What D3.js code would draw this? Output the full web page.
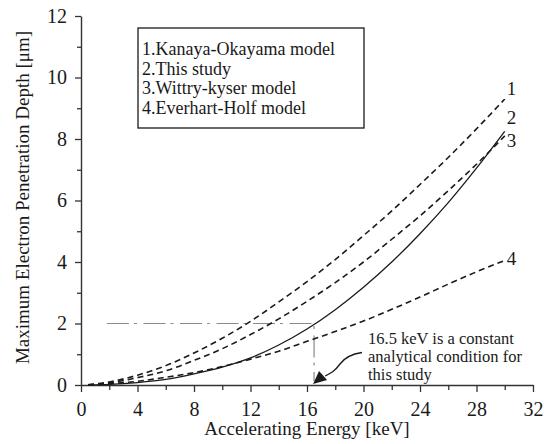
<!DOCTYPE html>
<html>
<head>
<meta charset="utf-8">
<script src="https://cdn.jsdelivr.net/npm/d3@7"></script>
<style>
    body { margin: 0; background: #fff; }
    text { font-family: "Liberation Serif", "DejaVu Serif", serif; fill: #1a1a1a; }
</style>
</head>
<body>
<div id="chart"></div>
<script>
// accelerating energy [keV]
const energy = [0.5, 2, 4, 6, 8, 10, 12, 14, 16, 18, 20, 22, 24, 26, 28, 30];
// max electron penetration depth [um]
const kanaya = [0.01, 0.10, 0.32, 0.63, 1.04, 1.52, 2.07, 2.70, 3.36, 4.08, 4.86, 5.66, 6.52, 7.40, 8.33, 9.30];
const thisStudy = [0.00, 0.02, 0.08, 0.18, 0.36, 0.58, 0.88, 1.30, 1.82, 2.45, 3.18, 4.00, 4.92, 5.93, 7.05, 8.25];
const wittry = [0.01, 0.07, 0.24, 0.46, 0.80, 1.18, 1.64, 2.15, 2.72, 3.33, 4.00, 4.74, 5.50, 6.32, 7.18, 8.10];
const everhart = [0.00, 0.04, 0.12, 0.25, 0.40, 0.60, 0.84, 1.10, 1.42, 1.74, 2.08, 2.46, 2.86, 3.28, 3.68, 4.05];

const legendLabels = ["1.Kanaya-Okayama model", "2.This study", "3.Wittry-kyser model", "4.Everhart-Holf model"];
const xTicks = [0, 4, 8, 12, 16, 20, 24, 28, 32];
const yTicks = [0, 2, 4, 6, 8, 10, 12];
const condEnergy = 16.5;
const condDepth = 2;
const noteLines = ["16.5 keV is a constant", "analytical condition for", "this study"];

const width = 544;
const height = 444;

const svg = d3.select("#chart")
    .append("svg")
    .attr("width", width)
    .attr("height", height);

const xScale = d3.scaleLinear().domain([0, 32]).range([81, 533]);
const yScale = d3.scaleLinear().domain([0, 12]).range([385, 16]);

// minor ticks
const xMinor = d3.range(2, 32, 4);
const yMinor = d3.range(1, 12, 2);

svg.append("g")
    .attr("transform", `translate(0, ${yScale(0)})`)
    .call(d3.axisBottom(xScale).tickValues(xMinor).tickSize(5).tickFormat(""))
    .call(g => g.select(".domain").remove())
    .selectAll("line").attr("stroke", "#333").attr("stroke-width", 1.3);

svg.append("g")
    .attr("transform", `translate(${xScale(0)}, 0)`)
    .call(d3.axisLeft(yScale).tickValues(yMinor).tickSize(4).tickFormat(""))
    .call(g => g.select(".domain").remove())
    .selectAll("line").attr("stroke", "#333").attr("stroke-width", 1.3);

// x-axis
const xAxis = svg.append("g")
    .attr("transform", `translate(0, ${yScale(0)})`)
    .call(d3.axisBottom(xScale).tickValues(xTicks).tickSize(7).tickSizeOuter(0).tickPadding(10));
xAxis.select(".domain").attr("stroke", "#333").attr("stroke-width", 1.4);
xAxis.selectAll("line").attr("stroke", "#333").attr("stroke-width", 1.3);
xAxis.selectAll("text")
    .attr("font-size", "20px")
    .attr("fill", "#1a1a1a");

// y-axis
const yAxis = svg.append("g")
    .attr("transform", `translate(${xScale(0)}, 0)`)
    .call(d3.axisLeft(yScale).tickValues(yTicks).tickSize(6).tickSizeOuter(0).tickPadding(8));
yAxis.select(".domain").attr("stroke", "#333").attr("stroke-width", 1.4);
yAxis.selectAll("line").attr("stroke", "#333").attr("stroke-width", 1.3);
yAxis.selectAll("text")
    .attr("font-size", "20px")
    .attr("fill", "#1a1a1a");

// axis-titles
svg.append("text")
    .attr("x", (xScale(0) + xScale(32)) / 2)
    .attr("y", 435)
    .attr("text-anchor", "middle")
    .attr("font-size", "19px")
    .text("Accelerating Energy [keV]");

svg.append("text")
    .attr("transform", `translate(29, ${(yScale(0) + yScale(12)) / 2 - 3}) rotate(-90)`)
    .attr("text-anchor", "middle")
    .attr("font-size", "19px")
    .text("Maximum Electron Penetration Depth [\u03bcm]");

// 16.5 keV guide lines
svg.append("path")
    .attr("d", `M${xScale(0) + 26},${yScale(condDepth)}H${xScale(condEnergy)}V${yScale(0) - 4}`)
    .attr("fill", "none")
    .attr("stroke", "#8a8a8a")
    .attr("stroke-width", 1.2)
    .attr("stroke-dasharray", "22,5,3,6.5");

// curves
const series = [
    { name: "1", values: kanaya, dash: "6,4", dy: -4, width: 1.6 },
    { name: "2", values: thisStudy, dash: null, dy: -7, width: 1.3 },
    { name: "3", values: wittry, dash: "6,4", dy: 11, width: 1.6 },
    { name: "4", values: everhart, dash: "6,4", dy: 5, width: 1.6 }
];

const line = d3.line()
    .x(d => xScale(d[0]))
    .y(d => yScale(d[1]))
    .curve(d3.curveMonotoneX);

for (let i = 0; i < series.length; i++) {
    const pts = energy.map((e, j) => [e, series[i].values[j]]);
    svg.append("path")
        .attr("d", line(pts))
        .attr("fill", "none")
        .attr("stroke", "#1a1a1a")
        .attr("stroke-width", series[i].width)
        .attr("stroke-dasharray", series[i].dash);

    const last = series[i].values[series[i].values.length - 1];
    svg.append("text")
        .attr("x", xScale(energy[energy.length - 1]) + 2)
        .attr("y", yScale(last) + series[i].dy)
        .attr("font-size", "19px")
        .text(series[i].name);
}

// legend box
svg.append("rect")
    .attr("x", 138)
    .attr("y", 28)
    .attr("width", 226)
    .attr("height", 100)
    .attr("fill", "#fff")
    .attr("stroke", "#1a1a1a")
    .attr("stroke-width", 1.3);

for (let i = 0; i < legendLabels.length; i++) {
    svg.append("text")
        .attr("x", 142)
        .attr("y", 55 + i * 19.7)
        .attr("font-size", "18px")
        .text(legendLabels[i]);
}

// note + arrow
for (let i = 0; i < noteLines.length; i++) {
    svg.append("text")
        .attr("x", 368)
        .attr("y", 344 + i * 18)
        .attr("font-size", "16.5px")
        .text(noteLines[i]);
}

const tipX = xScale(condEnergy) - 1;
const tipY = yScale(0) - 1;
svg.append("path")
    .attr("d", `M362,352.5 C352,354 345,357 340,364 C335,371 331,373 ${tipX + 12},${tipY - 8}`)
    .attr("fill", "none")
    .attr("stroke", "#1a1a1a")
    .attr("stroke-width", 1.3);

svg.append("path")
    .attr("d", `M${tipX},${tipY} L${tipX + 6},${tipY - 13} L${tipX + 14},${tipY - 4} Z`)
    .attr("fill", "#1a1a1a");
</script>
</body>
</html>
